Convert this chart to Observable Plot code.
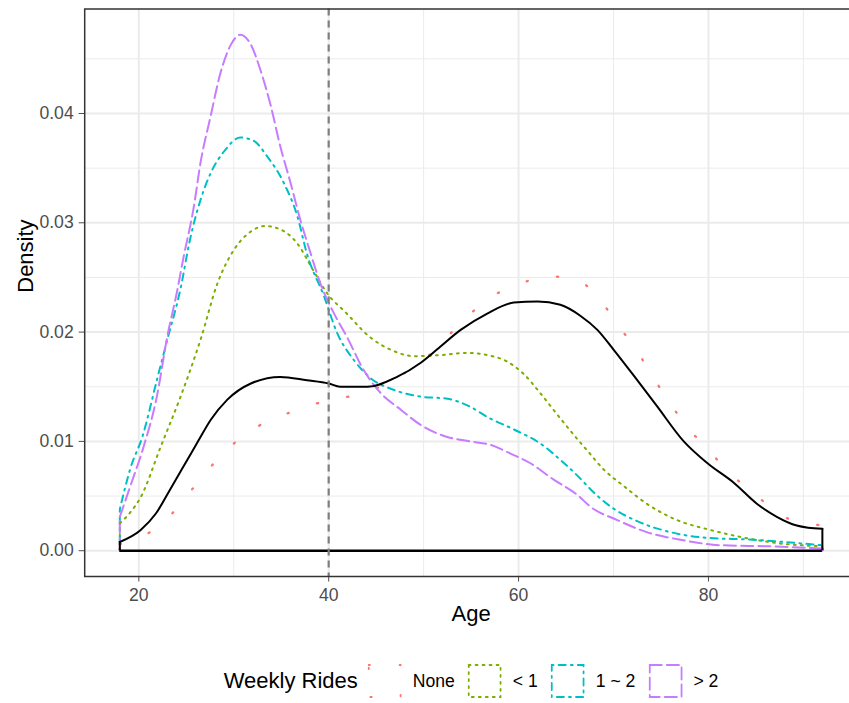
<!DOCTYPE html>
<html>
<head>
<meta charset="utf-8">
<script src="https://cdn.jsdelivr.net/npm/d3@7"></script>
<script src="https://cdn.jsdelivr.net/npm/@observablehq/plot@0.6"></script>
<style>
  html, body { margin: 0; padding: 0; background: #fff; overflow: hidden; width: 849px; height: 703px; }
  body { position: relative; font-family: "Liberation Sans", Arial, sans-serif; }
  #legend { position: absolute; top: 664px; left: 471px; transform: translateX(-50%);
            display: flex; align-items: center; white-space: nowrap; height: 34px; }
  #legend .title { font-size: 22px; color: #000; margin-right: 10px; }
  #legend .lab { font-size: 17.6px; color: #000; margin-left: 11px; margin-right: 13px; }
  #legend .lab:last-child { margin-right: 0; }
  #legend svg { display: block; }
</style>
</head>
<body>
<div id="chart"></div>
<div id="legend"></div>
<script>
// ---- data ----
const groups = ["None", "< 1", "1 ~ 2", "> 2"];
const groupColors = ["#F8766D", "#7CAE00", "#00BFC4", "#C77CFF"];
const groupDash = ["1.2,29.8", "1.8,5.2", "1.8,5.2,7,5.2", "12,5.2"];

const noneAge = [18, 21.0, 23.5, 25.6, 27.7, 30.0, 32.6, 35.5, 38.4, 41.6, 44.6, 47.3, 50.1, 52.4, 54.7, 57.1, 60.1, 63.2, 66.3, 68.7, 70.6, 72.6, 74.3, 76.1, 78.0, 80.2, 82.5, 85.0, 87.5, 90.6, 92];
const noneDensity = [0.0006, 0.0016, 0.0034, 0.0056, 0.0078, 0.0098, 0.0114, 0.0125, 0.0134, 0.0140, 0.0147, 0.0159, 0.0175, 0.0195, 0.0215, 0.0232, 0.0244, 0.0251, 0.0247, 0.0228, 0.0205, 0.0181, 0.0157, 0.0133, 0.0111, 0.0090, 0.0069, 0.0051, 0.0033, 0.0025, 0.0023];

const lt1Age = [18, 19.1, 20.2, 22.3, 24.4, 26.5, 28.3, 30.0, 31.8, 33.3, 34.9, 36.7, 38.4, 39.8, 41.9, 44.4, 46.5, 49.0, 51.8, 54.6, 56.7, 58.8, 60.5, 62.3, 64.4, 66.3, 67.2, 69.0, 71.1, 73.5, 76.7, 80.2, 83.7, 87.2, 92];
const lt1Density = [0.0025, 0.0035, 0.0049, 0.0095, 0.0141, 0.0193, 0.0245, 0.0275, 0.0292, 0.0297, 0.0294, 0.0281, 0.0256, 0.0236, 0.0217, 0.0195, 0.0184, 0.0178, 0.0179, 0.0181, 0.0179, 0.0173, 0.0162, 0.0144, 0.0121, 0.0101, 0.0092, 0.0074, 0.0059, 0.0043, 0.0028, 0.0019, 0.0012, 0.0007, 0.0004];

const oneTwoAge = [18, 19.1, 20.4, 21.9, 23.0, 24.4, 25.4, 26.5, 27.6, 28.95, 30.7, 32.1, 33.5, 35.3, 36.7, 37.7, 39.5, 40.9, 42.6, 44.4, 46.9, 49.7, 52.5, 54.6, 57.0, 59.5, 62.3, 64.8, 66.5, 67.6, 69.75, 72.5, 76.0, 79.5, 84.8, 89.3, 92];
const oneTwoDensity = [0.0038, 0.0075, 0.0105, 0.0156, 0.0193, 0.0240, 0.0285, 0.0321, 0.0346, 0.0365, 0.0378, 0.0375, 0.0361, 0.0336, 0.0306, 0.0272, 0.0233, 0.0199, 0.0175, 0.0158, 0.0147, 0.0141, 0.0139, 0.0133, 0.0121, 0.0111, 0.0098, 0.0080, 0.0066, 0.0056, 0.0040, 0.0027, 0.0017, 0.0012, 0.0010, 0.0007, 0.0005];

const gt2Age = [18, 19.1, 20.5, 21.9, 23.0, 24.0, 24.7, 25.8, 26.5, 27.55, 28.6, 29.7, 30.7, 31.8, 32.8, 33.9, 34.9, 36.0, 37.0, 38.1, 39.1, 40.5, 41.9, 43.7, 45.5, 47.6, 49.7, 52.5, 54.9, 57.0, 59.1, 61.25, 63.7, 66.2, 67.6, 70.4, 73.5, 77.05, 81.3, 86.5, 92];
const gt2Density = [0.0031, 0.0059, 0.0095, 0.0141, 0.0196, 0.0236, 0.0268, 0.0315, 0.0355, 0.0397, 0.0437, 0.0463, 0.0472, 0.0463, 0.0440, 0.0407, 0.0370, 0.0336, 0.0303, 0.0272, 0.0245, 0.0218, 0.0196, 0.0165, 0.0144, 0.0129, 0.0115, 0.0104, 0.0100, 0.0097, 0.0089, 0.0080, 0.0065, 0.0051, 0.0040, 0.0028, 0.0017, 0.0010, 0.0005, 0.0004, 0.0002];

const allAge = [18, 20.2, 21.8, 23.3, 25.1, 26.3, 27.6, 29.3, 31.8, 34.9, 37.7, 40.0, 41.2, 42.6, 44.1, 47.2, 49.7, 51.4, 53.9, 56.7, 59.5, 62.0, 64.4, 66.5, 68.3, 70.0, 72.5, 74.6, 77.4, 79.9, 82.7, 85.1, 87.2, 89.3, 90.5, 92];
const allDensity = [0.0008, 0.0019, 0.0034, 0.0056, 0.0083, 0.0101, 0.0120, 0.0138, 0.0153, 0.0159, 0.0156, 0.0153, 0.0150, 0.0150, 0.0150, 0.0159, 0.0172, 0.0184, 0.0202, 0.0217, 0.0227, 0.0228, 0.0225, 0.0215, 0.0202, 0.0184, 0.0156, 0.0132, 0.0100, 0.0080, 0.0062, 0.0043, 0.0031, 0.0023, 0.0021, 0.0020];

const cutAge = 40;
const xTicks = [20, 40, 60, 80];
const xMinor = [30, 50, 70, 90];
const yTicks = [0, 0.01, 0.02, 0.03, 0.04];
const yMinor = [0.005, 0.015, 0.025, 0.035, 0.045];

// ---- build ----
const seriesAges = [noneAge, lt1Age, oneTwoAge, gt2Age];
const seriesDens = [noneDensity, lt1Density, oneTwoDensity, gt2Density];
const toRows = (xs, ys) => xs.map((x, i) => ({x, y: ys[i]}));

const curveMarks = [];
const edgeMarks = [];
groups.forEach((g, i) => {
  const rows = toRows(seriesAges[i], seriesDens[i]);
  const ends = [rows[0], rows[rows.length - 1]];
  edgeMarks.push(Plot.ruleX(ends, {x: "x", y1: 0, y2: "y", stroke: groupColors[i], strokeWidth: 2,
    strokeDasharray: groupDash[i], strokeLinecap: "round"}));
  curveMarks.push(Plot.line(rows, {x: "x", y: "y", stroke: groupColors[i], strokeWidth: i === 0 ? 2.3 : 2,
    strokeDasharray: groupDash[i], strokeLinecap: "round", curve: "monotone-x"}));
});
const allRows = toRows(allAge, allDensity);
const allEnds = [allRows[0], allRows[allRows.length - 1]];

const yMax = d3.max(gt2Density);
const yPad = yMax * 0.05;
const xMin = d3.min(allAge), xMax = d3.max(allAge);
const xPad = (xMax - xMin) * 0.05;

const chart = Plot.plot({
  width: 849,
  height: 650,
  marginLeft: 84.2,
  marginRight: -8,
  marginTop: 8.5,
  marginBottom: 74,
  style: {fontFamily: "'Liberation Sans', Arial, sans-serif", fontSize: "17.6px", color: "#4D4D4D", background: "white", overflow: "visible"},
  x: {domain: [xMin - xPad, xMax + xPad], ticks: xTicks, tickSize: 5.5, tickPadding: 6.5, tickFormat: d => String(d), label: null},
  y: {domain: [-yPad, yMax + yPad], ticks: yTicks, tickSize: 5.5, tickPadding: 5.5, tickFormat: d3.format(".2f"), label: null},
  marks: [
    Plot.ruleX(xMinor, {stroke: "#EBEBEB", strokeWidth: 1}),
    Plot.ruleY(yMinor, {stroke: "#EBEBEB", strokeWidth: 1}),
    Plot.ruleX(xTicks, {stroke: "#EBEBEB", strokeWidth: 2}),
    Plot.ruleY(yTicks, {stroke: "#EBEBEB", strokeWidth: 2}),
    ...edgeMarks,
    ...curveMarks,
    Plot.ruleX(allEnds, {x: "x", y1: 0, y2: "y", stroke: "black", strokeWidth: 2}),
    Plot.ruleY([0], {x1: xMin, x2: xMax, stroke: "black", strokeWidth: 2.4}),
    Plot.line(allRows, {x: "x", y: "y", stroke: "black", strokeWidth: 2, curve: "monotone-x"}),
    Plot.ruleX([cutAge], {stroke: "#7F7F7F", strokeWidth: 2.2, strokeDasharray: "7,5"}),
    Plot.frame({stroke: "#333333", strokeWidth: 1.5}),
    Plot.text(["Density"], {text: d => d, frameAnchor: "left", dx: -59, rotate: -90, fontSize: 22, fill: "black"}),
    Plot.text(["Age"], {text: d => d, frameAnchor: "bottom", dy: 44, fontSize: 22, fill: "black"})
  ]
});
document.getElementById("chart").appendChild(chart);

// ---- legend ----
const legend = document.getElementById("legend");
const t = document.createElement("span");
t.className = "title";
t.textContent = "Weekly Rides";
legend.appendChild(t);
groups.forEach((g, i) => {
  const ns = "http://www.w3.org/2000/svg";
  const svg = document.createElementNS(ns, "svg");
  svg.setAttribute("width", 34);
  svg.setAttribute("height", 34);
  const r = document.createElementNS(ns, "rect");
  r.setAttribute("x", 1); r.setAttribute("y", 1);
  r.setAttribute("width", 32); r.setAttribute("height", 32);
  r.setAttribute("fill", "none");
  r.setAttribute("stroke", groupColors[i]);
  r.setAttribute("stroke-width", 2);
  r.setAttribute("stroke-dasharray", groupDash[i]);
  r.setAttribute("stroke-linecap", "round");
  svg.appendChild(r);
  legend.appendChild(svg);
  const l = document.createElement("span");
  l.className = "lab";
  l.textContent = g;
  legend.appendChild(l);
});
</script>
</body>
</html>
